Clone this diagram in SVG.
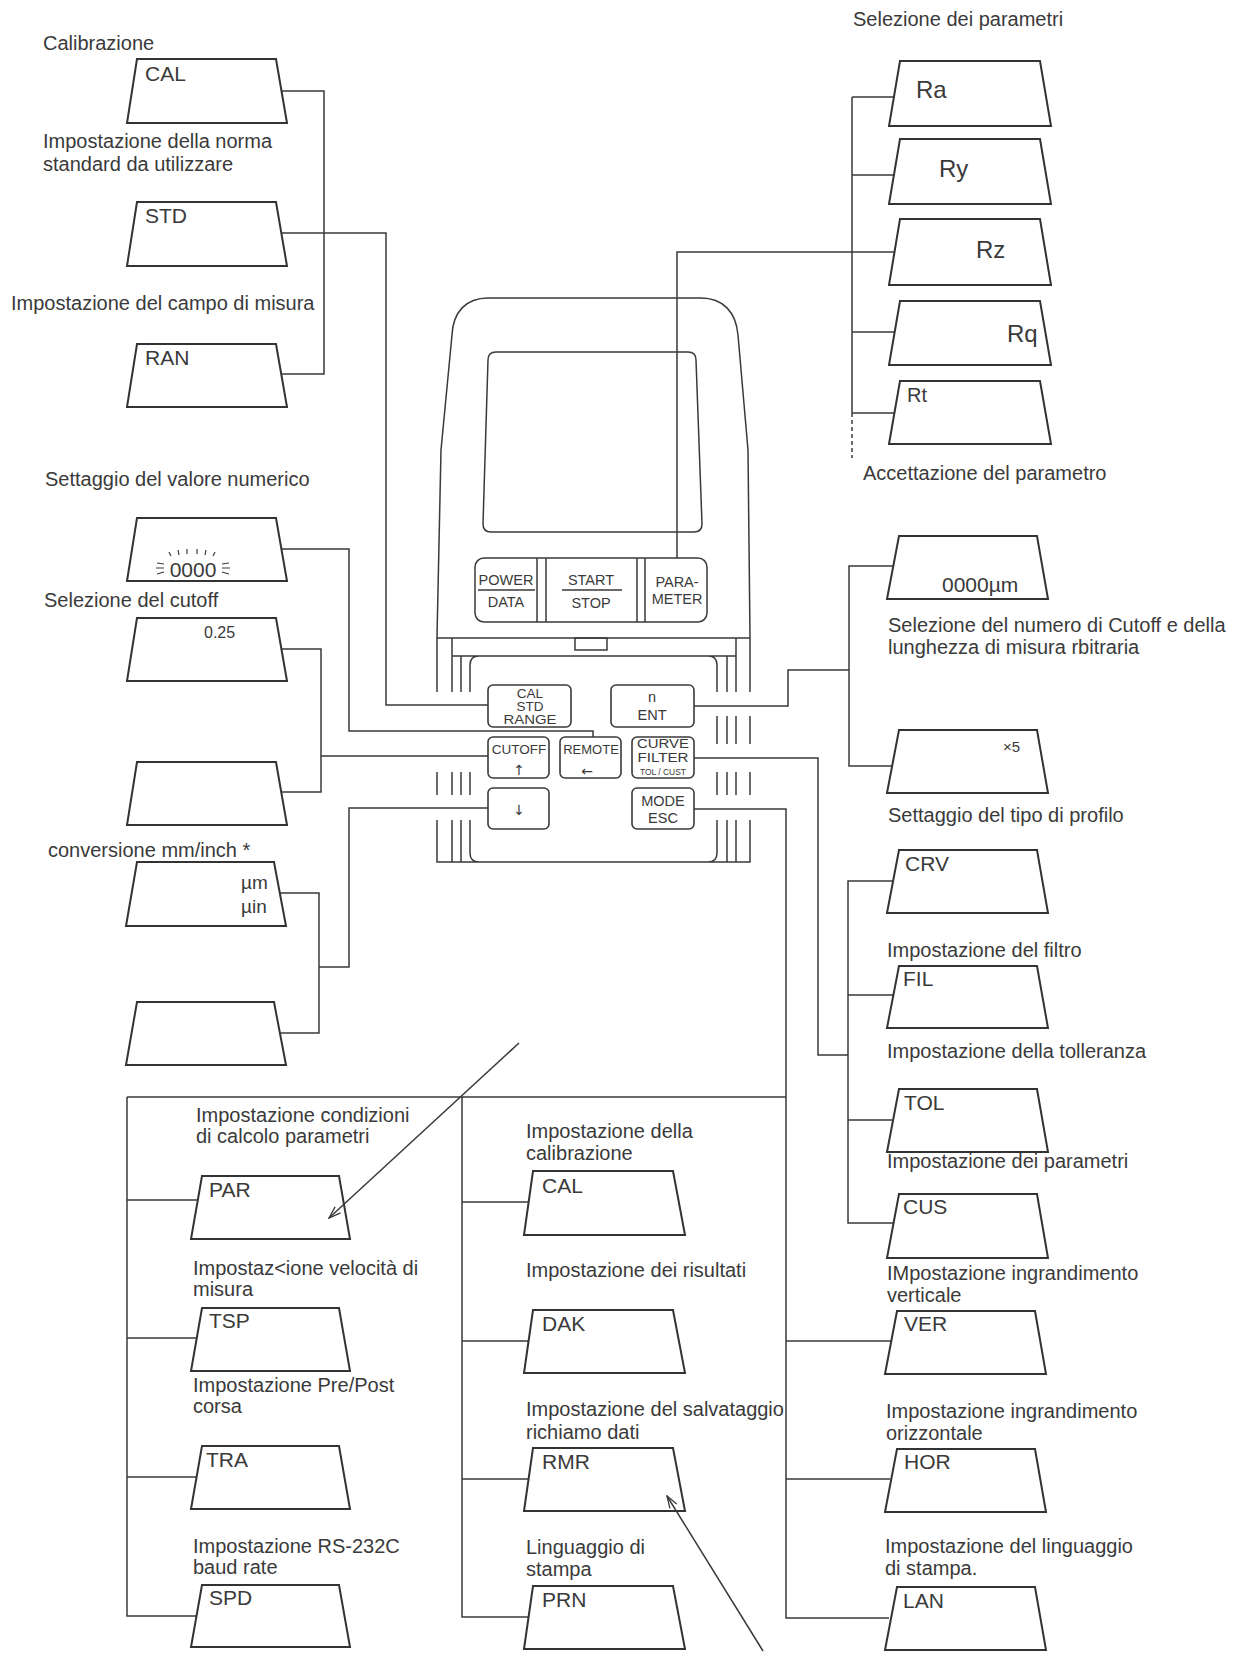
<svg xmlns="http://www.w3.org/2000/svg" width="1243" height="1654" viewBox="0 0 1243 1654">
<style>
.box{fill:none;stroke:#333;stroke-width:2}
.ln{fill:none;stroke:#3a3a3a;stroke-width:1.5}
.dev{fill:none;stroke:#3a3a3a;stroke-width:1.5}
.key{fill:none;stroke:#3a3a3a;stroke-width:1.6}
text{font-family:"Liberation Sans",Arial,sans-serif;fill:#3a3a3a}
.lbl{font-size:20px}
.bx{font-size:21px}
.big{font-size:24px}
.kt{font-size:14.5px;text-anchor:middle}
.sym{font-family:"DejaVu Sans",sans-serif;font-size:14px;text-anchor:middle}
.fl{stroke:#3a3a3a;stroke-width:1.2}
</style>
<defs>
<marker id="ah" markerWidth="14" markerHeight="10" refX="13" refY="5" orient="auto" markerUnits="userSpaceOnUse">
<path d="M1,1 L13,5 L1,9" fill="none" stroke="#3a3a3a" stroke-width="1.3"/>
</marker>
</defs>
<rect x="0" y="0" width="1243" height="1654" fill="#fff"/>

<g id="connectors">
<path class="ln" d="M281,91 H324 V374 H281"/>
<path class="ln" d="M281,233 H386 V705 H488"/>
<path class="ln" d="M281,549 H349 V731 H593 V737"/>
<path class="ln" d="M281,649 H321 V792 H281 M321,756 H488"/>
<path class="ln" d="M488,808 H349 V967 H319"/>
<path class="ln" d="M280,893 H319 V1033 H280"/>
<path class="ln" d="M677,558 V252 H895"/>
<path class="ln" d="M852,97 V413 M852,97 H895 M852,175 H895 M852,332 H895 M852,413 H894"/>
<path class="ln" stroke-dasharray="4 3" d="M852,413 V458"/>
<path class="ln" d="M694,706 H788 V670 H849"/>
<path class="ln" d="M894,566 H849 V766 H893"/>
<path class="ln" d="M694,758 H818 V1055 H848"/>
<path class="ln" d="M893,881 H848 V1223 H893 M848,995 H893 M848,1120 H892"/>
<path class="ln" d="M694,809 H786 V1618 H889 M786,1341 H891 M786,1479 H890"/>
<path class="ln" d="M127,1097 H786 M127,1097 V1616 H196 M127,1200 H198 M127,1338 H197 M127,1477 H197"/>
<path class="ln" d="M462,1097 V1617 H528 M462,1202 H529 M462,1341 H529 M462,1479 H528"/>
<path class="ln" marker-end="url(#ah)" d="M519,1043 L329,1218"/>
<path class="ln" marker-end="url(#ah)" d="M763,1651 L667,1496"/>
</g>

<g id="device">
<path class="dev" d="M437,692 L437,637 L441,450 L452,335 C453,312 466,298 488,298 L701,298 C723,298 736,312 738,335 L748,450 L750,637 L750,692"/>
<path class="dev" d="M496,352 L688,352 Q696,352 696,360 L702,524 Q702,532 694,532 L491,532 Q483,532 483,524 L488,360 Q488,352 496,352 Z"/>
<rect class="dev" x="475" y="558" width="232" height="64" rx="9"/>
<path class="dev" d="M537,558 V622 M546,558 V622 M637,558 V622 M645,558 V622 M478,590 H535 M562,590 H622"/>
<path class="dev" d="M437,638 H750 M452,638 V692 M736,638 V692 M452,656 H736 M461,656 V692 M727,656 V692 M470,692 V665 Q470,656 479,656 M717,692 V665 Q717,656 708,656"/>
<rect class="dev" x="575" y="638" width="32" height="12"/>
<path class="dev" d="M717,716 V744 M727,716 V744 M736,716 V744 M750,716 V744"/>
<path class="dev" d="M437,772 V795 M452,772 V795 M461,772 V795 M470,772 V795 M717,772 V795 M727,772 V795 M736,772 V795 M750,772 V795"/>
<path class="dev" d="M437,820 V862 H750 V820 M452,820 V862 M461,820 V862 M470,820 V853 Q470,862 479,862 M736,820 V862 M727,820 V862 M717,820 V853 Q717,862 708,862"/>
<text class="kt" x="506" y="585">POWER</text>
<text class="kt" x="506" y="607">DATA</text>
<text class="kt" x="591" y="585">START</text>
<text class="kt" x="591" y="608">STOP</text>
<text class="kt" x="677" y="587">PARA-</text>
<text class="kt" x="677" y="604">METER</text>
</g>

<g id="key-calstd">
<rect class="key" x="488" y="685" width="83" height="42" rx="5"/>
<text class="kt" x="530" y="698" style="font-size:13.5px">CAL</text>
<text class="kt" x="530" y="711" style="font-size:13.5px">STD</text>
<text class="kt" x="530" y="724" style="font-size:13.5px" textLength="53" lengthAdjust="spacingAndGlyphs">RANGE</text>
</g>
<g id="key-ent">
<rect class="key" x="611" y="685" width="83" height="42" rx="5"/>
<text class="kt" x="652" y="702">n</text>
<text class="kt" x="652" y="720">ENT</text>
</g>
<g id="key-cutoff">
<rect class="key" x="488" y="737" width="61" height="41" rx="5"/>
<text class="kt" x="519" y="754" style="font-size:13.5px">CUTOFF</text>
<text class="sym" x="519" y="775">↑</text>
</g>
<g id="key-remote">
<rect class="key" x="560" y="737" width="61" height="41" rx="5"/>
<text class="kt" x="591" y="754" style="font-size:13px">REMOTE</text>
<text class="sym" x="587" y="776">←</text>
</g>
<g id="key-curve">
<rect class="key" x="632" y="737" width="62" height="41" rx="5"/>
<text class="kt" x="663" y="748" style="font-size:12px" textLength="52" lengthAdjust="spacingAndGlyphs">CURVE</text>
<text class="kt" x="663" y="761.5" style="font-size:12px" textLength="51" lengthAdjust="spacingAndGlyphs">FILTER</text>
<text class="kt" x="663" y="775" style="font-size:9px" textLength="46" lengthAdjust="spacingAndGlyphs">TOL / CUST</text>
</g>
<g id="key-down">
<rect class="key" x="488" y="788" width="61" height="41" rx="5"/>
<text class="sym" x="519" y="815">↓</text>
</g>
<g id="key-mode">
<rect class="key" x="632" y="788" width="62" height="41" rx="5"/>
<text class="kt" x="663" y="806">MODE</text>
<text class="kt" x="663" y="823">ESC</text>
</g>

<g id="n-cal">
<text class="lbl" x="43" y="50">Calibrazione</text>
<polygon class="box" points="137,59 276,59 287,123 127,123"/>
<text class="bx" x="145" y="81">CAL</text>
</g>
<g id="n-std">
<text class="lbl" x="43" y="148">Impostazione della norma</text>
<text class="lbl" x="43" y="171">standard da utilizzare</text>
<polygon class="box" points="137,202 276,202 287,266 127,266"/>
<text class="bx" x="145" y="223">STD</text>
</g>
<g id="n-ran">
<text class="lbl" x="11" y="310">Impostazione del campo di misura</text>
<polygon class="box" points="137,344 276,344 287,407 127,407"/>
<text class="bx" x="145" y="365">RAN</text>
</g>
<g id="n-num">
<text class="lbl" x="45" y="486">Settaggio del valore numerico</text>
<polygon class="box" points="137,518 276,518 287,581 127,581"/>
<text class="bx" x="193" y="577" text-anchor="middle">0000</text>
<path class="fl" d="M169,552 L171,556 M178,550 L179,555 M187,549 L187,554 M197,549 L197,554 M206,550 L205,555 M215,552 L213,556 M157,563 L164,564 M156,568 L164,568 M157,574 L164,572 M222,564 L229,563 M222,568 L230,568 M222,572 L229,574"/>
</g>
<g id="n-cut">
<text class="lbl" x="44" y="607">Selezione del cutoff</text>
<polygon class="box" points="137,618 276,618 287,681 127,681"/>
<text x="204" y="638" style="font-size:16px">0.25</text>
</g>
<g id="n-blank1">
<polygon class="box" points="137,762 276,762 287,825 127,825"/>
</g>
<g id="n-mmi">
<text class="lbl" x="48" y="857">conversione mm/inch *</text>
<polygon class="box" points="137,862 274,862 286,926 126,926"/>
<text x="241" y="889" style="font-size:19px">µm</text>
<text x="241" y="913" style="font-size:19px">µin</text>
</g>
<g id="n-blank2">
<polygon class="box" points="137,1002 274,1002 286,1065 126,1065"/>
</g>

<g id="n-ra">
<text class="lbl" x="853" y="26">Selezione dei parametri</text>
<polygon class="box" points="900,61 1040,61 1051,126 889,126"/>
<text class="big" x="916" y="98">Ra</text>
</g>
<g id="n-ry">
<polygon class="box" points="900,139 1040,139 1051,204 889,204"/>
<text class="big" x="939" y="177">Ry</text>
</g>
<g id="n-rz">
<polygon class="box" points="900,219 1040,219 1051,285 889,285"/>
<text class="big" x="976" y="258">Rz</text>
</g>
<g id="n-rq">
<polygon class="box" points="900,301 1040,301 1051,365 889,365"/>
<text class="big" x="1007" y="342">Rq</text>
</g>
<g id="n-rt">
<polygon class="box" points="900,381 1040,381 1051,444 889,444"/>
<text class="lbl" x="907" y="402">Rt</text>
<text class="lbl" x="863" y="480">Accettazione del parametro</text>
</g>

<g id="n-um">
<polygon class="box" points="899,536 1037,536 1048,599 887,599"/>
<text class="bx" x="942" y="592">0000µm</text>
<text class="lbl" x="888" y="632">Selezione del numero di Cutoff e della</text>
<text class="lbl" x="888" y="654">lunghezza di misura rbitraria</text>
</g>
<g id="n-x5">
<polygon class="box" points="899,730 1037,730 1048,793 887,793"/>
<text x="1003" y="752" style="font-size:15px">×5</text>
</g>
<g id="n-crv">
<text class="lbl" x="888" y="822">Settaggio del tipo di profilo</text>
<polygon class="box" points="899,850 1037,850 1048,913 887,913"/>
<text class="bx" x="905" y="871">CRV</text>
</g>
<g id="n-fil">
<text class="lbl" x="887" y="957">Impostazione del filtro</text>
<polygon class="box" points="899,966 1037,966 1048,1028 887,1028"/>
<text class="bx" x="903" y="986">FIL</text>
</g>
<g id="n-tol">
<text class="lbl" x="887" y="1058">Impostazione della tolleranza</text>
<polygon class="box" points="899,1089 1037,1089 1048,1152 887,1152"/>
<text class="bx" x="904" y="1110">TOL</text>
</g>
<g id="n-cus">
<text class="lbl" x="887" y="1168">Impostazione dei parametri</text>
<polygon class="box" points="899,1194 1037,1194 1048,1258 887,1258"/>
<text class="bx" x="903" y="1214">CUS</text>
</g>
<g id="n-ver">
<text class="lbl" x="887" y="1280">IMpostazione ingrandimento</text>
<text class="lbl" x="887" y="1302">verticale</text>
<polygon class="box" points="897,1311 1035,1311 1046,1374 885,1374"/>
<text class="bx" x="904" y="1331">VER</text>
</g>
<g id="n-hor">
<text class="lbl" x="886" y="1418">Impostazione ingrandimento</text>
<text class="lbl" x="886" y="1440">orizzontale</text>
<polygon class="box" points="897,1449 1035,1449 1046,1512 885,1512"/>
<text class="bx" x="904" y="1469">HOR</text>
</g>
<g id="n-lan">
<text class="lbl" x="885" y="1553">Impostazione del linguaggio</text>
<text class="lbl" x="885" y="1575">di stampa.</text>
<polygon class="box" points="897,1587 1035,1587 1046,1650 885,1650"/>
<text class="bx" x="903" y="1608">LAN</text>
</g>

<g id="n-par">
<text class="lbl" x="196" y="1122">Impostazione condizioni</text>
<text class="lbl" x="196" y="1143">di calcolo parametri</text>
<polygon class="box" points="202,1176 339,1176 350,1239 191,1239"/>
<text class="bx" x="209" y="1197">PAR</text>
</g>
<g id="n-tsp">
<text class="lbl" x="193" y="1275">Impostaz&lt;ione velocità di</text>
<text class="lbl" x="193" y="1296">misura</text>
<polygon class="box" points="202,1308 339,1308 350,1371 191,1371"/>
<text class="bx" x="209" y="1328">TSP</text>
</g>
<g id="n-tra">
<text class="lbl" x="193" y="1392">Impostazione Pre/Post</text>
<text class="lbl" x="193" y="1413">corsa</text>
<polygon class="box" points="202,1446 339,1446 350,1509 191,1509"/>
<text class="bx" x="206" y="1467">TRA</text>
</g>
<g id="n-spd">
<text class="lbl" x="193" y="1553">Impostazione RS-232C</text>
<text class="lbl" x="193" y="1574">baud rate</text>
<polygon class="box" points="202,1585 339,1585 350,1647 191,1647"/>
<text class="bx" x="209" y="1605">SPD</text>
</g>

<g id="n-cal2">
<text class="lbl" x="526" y="1138">Impostazione della</text>
<text class="lbl" x="526" y="1160">calibrazione</text>
<polygon class="box" points="533,1171 673,1171 685,1235 524,1235"/>
<text class="bx" x="542" y="1193">CAL</text>
</g>
<g id="n-dak">
<text class="lbl" x="526" y="1277">Impostazione dei risultati</text>
<polygon class="box" points="533,1310 673,1310 685,1373 524,1373"/>
<text class="bx" x="542" y="1331">DAK</text>
</g>
<g id="n-rmr">
<text class="lbl" x="526" y="1416">Impostazione del salvataggio</text>
<text class="lbl" x="526" y="1439">richiamo dati</text>
<polygon class="box" points="533,1448 673,1448 685,1511 524,1511"/>
<text class="bx" x="542" y="1469">RMR</text>
</g>
<g id="n-prn">
<text class="lbl" x="526" y="1554">Linguaggio di</text>
<text class="lbl" x="526" y="1576">stampa</text>
<polygon class="box" points="533,1586 673,1586 685,1649 524,1649"/>
<text class="bx" x="542" y="1607">PRN</text>
</g>
</svg>
